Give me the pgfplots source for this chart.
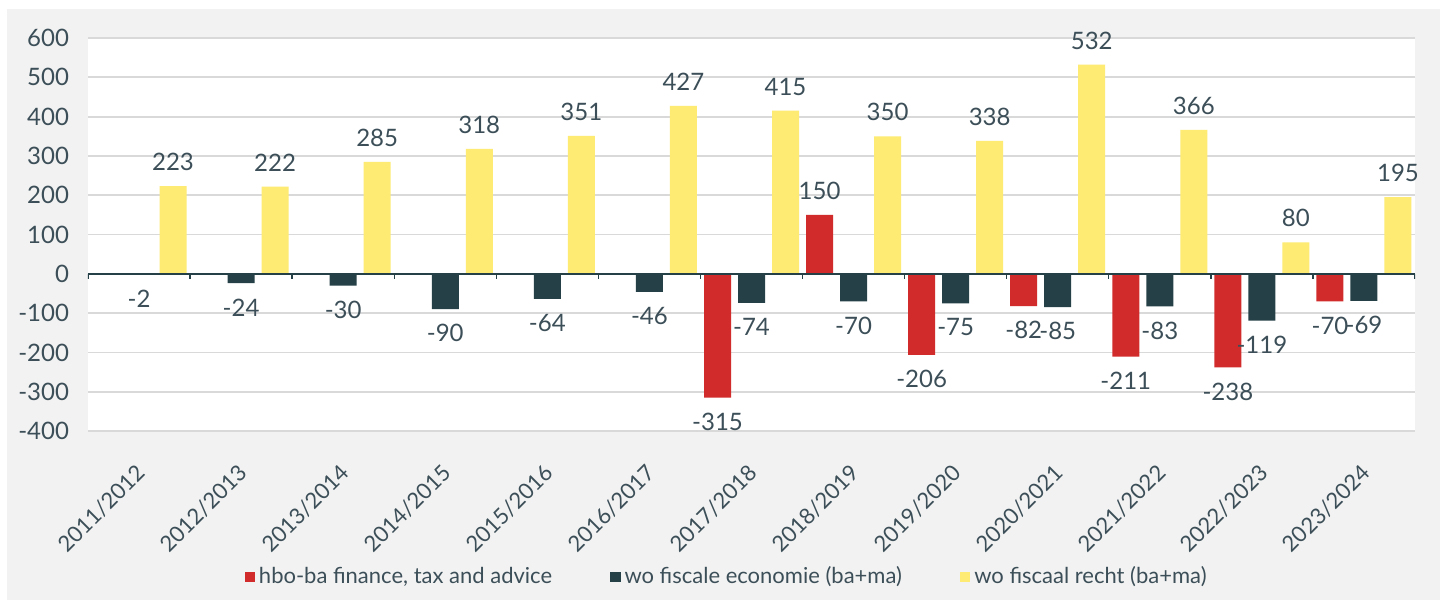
\documentclass[border=0pt]{standalone}
\usepackage{pgfplots}
\pgfplotsset{compat=1.18}
\usepackage{fontspec}
\setmainfont{Lato}
\definecolor{cred}{HTML}{D22B2B}
\definecolor{cdark}{HTML}{254047}
\definecolor{cyel}{HTML}{FDEB74}
\definecolor{ctext}{HTML}{3C4F58}
\definecolor{cgrid}{HTML}{D9D9D9}
\definecolor{cbg}{HTML}{F2F2F2}
\begin{document}
\begin{tikzpicture}
\fill[white] (-44pt,-88pt) rectangle (680pt,215.5pt);
\useasboundingbox (-44pt,-88pt) rectangle (680pt,215.5pt);
\fill[cbg] (-40.5pt,-84.5pt) rectangle (676pt,211pt);
\begin{axis}[
  at={(0,0)}, anchor=south west,
  scale only axis, width=663.5pt, height=196.5pt,
  ybar=3.5pt, bar width=13.5pt,
  xmin=-0.5, xmax=12.5, ymin=-400, ymax=600,
  ytick={-400,-300,...,600},
  xtick={0,...,12},
  xticklabels={2011/2012,2012/2013,2013/2014,2014/2015,2015/2016,2016/2017,2017/2018,2018/2019,2019/2020,2020/2021,2021/2022,2022/2023,2023/2024},
  axis line style={draw=none},
  tick style={draw=none},
  ymajorgrids, grid style={cgrid, line width=0.9pt},
  axis background/.style={fill=white},
  /pgf/number format/assume math mode=true,
  ticklabel style={font=\fontsize{12}{14}\selectfont, text=ctext},
  yticklabel style={xshift=-6pt},
  xticklabel style={font=\fontsize{11}{13}\selectfont, rotate=45, anchor=north east, inner sep=0pt, yshift=-6.5pt, xshift=-9.5pt},
  nodes near coords,
  every node near coord/.append style={font=\fontsize{12}{14}\selectfont, text=ctext, inner ysep=7.5pt, inner xsep=0pt},
  legend columns=3,
  legend style={at={(0.482,-0.371)}, anchor=center, draw=none, fill=none,
    font=\fontsize{11}{13}\selectfont, text=ctext,
    /tikz/every even column/.append style={column sep=27pt}},
  legend image code/.code={\fill[#1, draw=none] (0pt,-2.6pt) rectangle (5.2pt,2.6pt);},
]
\addplot[fill=cred, draw=none] coordinates {(6,-315) (7,150) (8,-206) (9,-82) (10,-211) (11,-238) (12,-70)};
\addplot[fill=cdark, draw=none] coordinates {(0,-2) (1,-24) (2,-30) (3,-90) (4,-64) (5,-46) (6,-74) (7,-70) (8,-75) (9,-85) (10,-83) (11,-119) (12,-69)};
\addplot[fill=cyel, draw=none] coordinates {(0,223) (1,222) (2,285) (3,318) (4,351) (5,427) (6,415) (7,350) (8,338) (9,532) (10,366) (11,80) (12,195)};
\legend{{hbo-ba finance, tax and advice}, {wo fiscale economie (ba+ma)}, {wo fiscaal recht (ba+ma)}}
\draw[cdark, line width=1pt] (axis cs:-0.5,0) -- (axis cs:12.5,0);
\pgfplotsinvokeforeach{-0.5,0.5,1.5,2.5,3.5,4.5,5.5,6.5,7.5,8.5,9.5,10.5,11.5,12.5}{
  \draw[cdark, line width=0.7pt] (axis cs:#1,0) -- (axis cs:#1,-12);
}
\end{axis}
\end{tikzpicture}
\end{document}
